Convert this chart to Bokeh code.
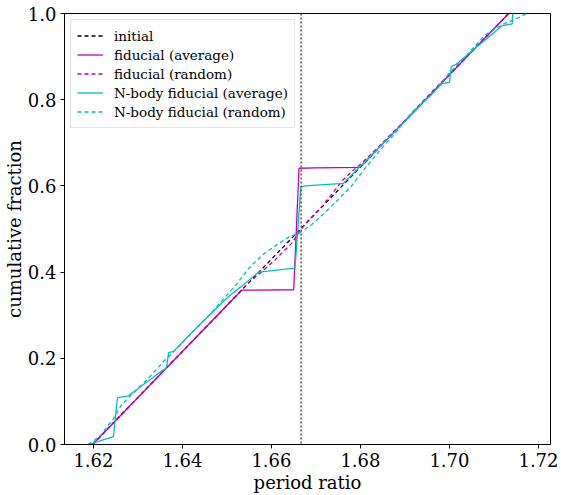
from bokeh.plotting import figure
from bokeh.models import Span, FixedTicker, Legend, LegendItem, Range1d
from bokeh.embed import file_html
from bokeh.resources import INLINE

# ---- data ----
initial_x = [1.6198, 1.7133]
initial_y = [0.0, 1.0]

fid_avg_x = [1.6198, 1.6533, 1.6650, 1.6662, 1.6700, 1.6799, 1.7133]
fid_avg_y = [0.0, 0.358, 0.359, 0.641, 0.642, 0.643, 1.0]

fid_rand_x = [1.6198, 1.628, 1.636, 1.644, 1.650, 1.6545, 1.6575, 1.6605, 1.6625, 1.6645,
              1.6665, 1.6685, 1.671, 1.6735, 1.676, 1.678, 1.680, 1.684, 1.690, 1.696,
              1.702, 1.708, 1.7133]
fid_rand_y = [0.0, 0.088, 0.174, 0.258, 0.322, 0.372, 0.398, 0.425, 0.446, 0.466,
              0.497, 0.522, 0.548, 0.580, 0.613, 0.633, 0.650, 0.690, 0.752, 0.818,
              0.880, 0.944, 1.0]

nb_avg_x = [1.6189, 1.6245, 1.6254, 1.6279, 1.6320, 1.6351, 1.6364, 1.6369, 1.6380,
            1.6429, 1.6500, 1.6572, 1.6653, 1.6666, 1.6675, 1.6762, 1.6900, 1.6984,
            1.7000, 1.7004, 1.7015, 1.7119, 1.7141, 1.7142]
nb_avg_y = [0.0, 0.0185, 0.109, 0.113, 0.145, 0.169, 0.177, 0.213, 0.216,
            0.268, 0.340, 0.400, 0.409, 0.597, 0.600, 0.606, 0.750, 0.838,
            0.840, 0.877, 0.882, 0.972, 0.976, 1.0]

nb_rand_x = [1.6188, 1.6215, 1.6245, 1.6262, 1.6285, 1.632, 1.636, 1.638, 1.642, 1.646,
             1.649, 1.652, 1.655, 1.658, 1.661, 1.664, 1.6665, 1.669, 1.672, 1.675,
             1.678, 1.681, 1.684, 1.688, 1.692, 1.696, 1.700, 1.704, 1.708, 1.712,
             1.7145, 1.7173]
nb_rand_y = [0.0, 0.02, 0.06, 0.09, 0.115, 0.150, 0.195, 0.215, 0.258, 0.300,
             0.335, 0.370, 0.410, 0.440, 0.462, 0.482, 0.492, 0.510, 0.538, 0.568,
             0.600, 0.640, 0.678, 0.725, 0.775, 0.812, 0.862, 0.905, 0.950, 0.975,
             0.985, 1.0]

resonance = 5.0 / 3.0

x_ticks = [1.62, 1.64, 1.66, 1.68, 1.70, 1.72]
x_tick_labels = ["1.62", "1.64", "1.66", "1.68", "1.70", "1.72"]
y_ticks = [0.0, 0.2, 0.4, 0.6, 0.8, 1.0]
y_tick_labels = ["0.0", "0.2", "0.4", "0.6", "0.8", "1.0"]

FONT = "DejaVu Serif"
MAG = "#bf00bf"
CYA = "#00bfbf"

p = figure(width=561, height=495, output_backend="svg", toolbar_location=None,
           x_range=Range1d(1.6135, 1.7227), y_range=Range1d(0.0, 1.0),
           min_border_left=10, min_border_right=11, min_border_top=13, min_border_bottom=50)

p.grid.visible = False
p.outline_line_color = "black"
p.outline_line_width = 1
p.background_fill_color = "white"
p.border_fill_color = "white"

for ax in (p.xaxis[0], p.yaxis[0]):
    ax.axis_label_text_font = FONT
    ax.axis_label_text_font_size = "18px"
    ax.axis_label_text_font_style = "normal"
    ax.axis_label_text_color = "black"
    ax.major_label_text_font = FONT
    ax.major_label_text_font_size = "18px"
    ax.major_label_text_color = "black"
    ax.minor_tick_line_color = None
    ax.major_tick_out = 4
    ax.major_tick_in = 0
    ax.axis_line_color = "black"
    ax.major_tick_line_color = "black"

p.xaxis.axis_label = "period ratio"
p.yaxis.axis_label = "cumulative fraction"
p.xaxis.ticker = FixedTicker(ticks=x_ticks)
p.yaxis.ticker = FixedTicker(ticks=y_ticks)
p.xaxis.major_label_overrides = dict(zip(x_ticks, x_tick_labels))
p.yaxis.major_label_overrides = dict(zip(y_ticks, y_tick_labels))
p.xaxis.major_label_standoff = 4
p.yaxis.major_label_standoff = 4
p.xaxis.axis_label_standoff = 2
p.yaxis.axis_label_standoff = 0

p.add_layout(Span(location=resonance, dimension="height", line_color="#444444",
                  line_dash="2 2", line_width=1.3))

r0 = p.line(initial_x, initial_y, line_color="black", line_dash="4 3", line_width=1.3)
r1 = p.line(fid_avg_x, fid_avg_y, line_color=MAG, line_width=1.3)
r2 = p.line(fid_rand_x, fid_rand_y, line_color=MAG, line_dash="4 3", line_width=1.3)
r3 = p.line(nb_avg_x, nb_avg_y, line_color=CYA, line_width=1.3)
r4 = p.line(nb_rand_x, nb_rand_y, line_color=CYA, line_dash="4 3", line_width=1.3)

legend = Legend(items=[
    LegendItem(label="initial", renderers=[r0]),
    LegendItem(label="fiducial (average)", renderers=[r1]),
    LegendItem(label="fiducial (random)", renderers=[r2]),
    LegendItem(label="N-body fiducial (average)", renderers=[r3]),
    LegendItem(label="N-body fiducial (random)", renderers=[r4]),
], location="top_left")
legend.label_text_font = FONT
legend.label_text_font_size = "13.5px"
legend.label_text_color = "black"
legend.glyph_width = 26
legend.glyph_height = 19
legend.label_height = 19
legend.spacing = 0
legend.padding = 6
legend.margin = 6
legend.label_standoff = 11
legend.border_line_color = "#cccccc"
legend.border_line_width = 1
legend.background_fill_alpha = 0.8
p.add_layout(legend)

open("out.html", "w").write(file_html(p, INLINE))
